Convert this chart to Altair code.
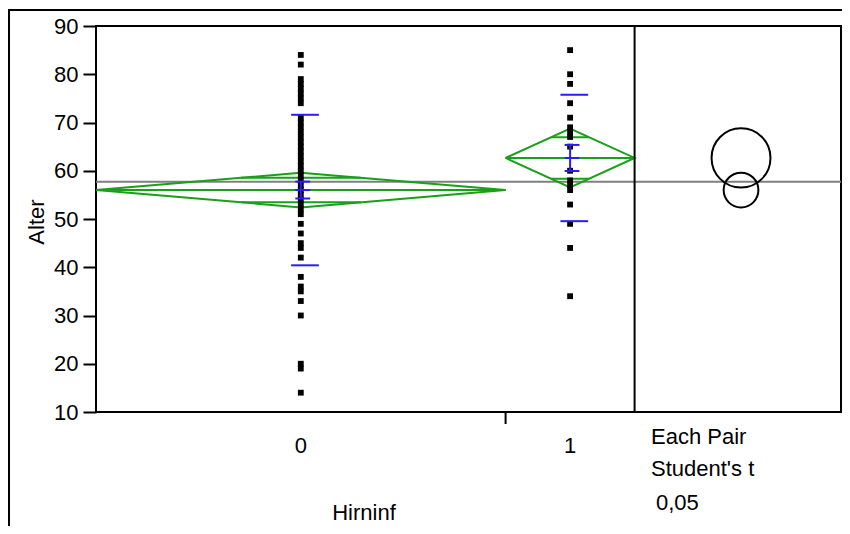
import math
import altair as alt
import pandas as pd

# ---------------- data ----------------
groups = ["0", "1"]
group_n = [127, 40]                 # group sizes -> widths of the groups on the x axis
group_means = [56.0, 62.65]
ci_halfwidth = [3.6, 6.1]           # 95% CI half-width (diamond half-height, circle radius)
se_halfwidth = [1.75, 2.7]          # mean error bars
std_dev = [15.6, 13.1]              # std dev lines
grand_mean = 57.7

ages_g0 = [84, 82, 79, 78, 77, 76, 75, 74, 71, 70, 69, 68, 67, 66, 65, 64, 63,
           62, 61, 60, 59, 58, 57, 56, 55, 54, 53, 52, 51, 49, 47, 45, 44, 42,
           38, 36, 35, 33, 30, 20, 19, 14]
ages_g1 = [85, 80, 78, 74, 71, 69, 68, 67, 65, 60, 58, 57, 56, 53, 49, 44, 34]

y_ticks = [10, 20, 30, 40, 50, 60, 70, 80, 90]
y_title = "Alter"
x_title = "Hirninf"
panel_text = ["Each Pair", "Student's t", "0,05"]
compare_panel_units = 64            # width of the comparison-circle panel in x units

# ---------------- geometry helpers ----------------
W, H = 745, 386
FONT = "Liberation Sans"
FS = 22
GREEN = "#18a018"
BLUE = "#2a1cff"
GRAY = "#7f7f7f"

main_units = sum(group_n)
x_max = main_units + compare_panel_units
lefts, rights, centers = [], [], []
acc = 0
for n in group_n:
    lefts.append(acc)
    rights.append(acc + n)
    centers.append(acc + n / 2)
    acc += n
circle_x = main_units + compare_panel_units / 2 + 1

xs = alt.Scale(domain=[0, x_max], nice=False, zero=False)
ys = alt.Scale(domain=[10, 90], nice=False, zero=False)
px_per_y = H / 80.0


def X(f="x"):
    return alt.X(f"{f}:Q", scale=xs, axis=None)


def Y(f="y"):
    return alt.Y(f"{f}:Q", scale=ys, axis=alt.Axis(
        values=y_ticks, title=None, domain=False, grid=False, ticks=True,
        tickSize=13, tickWidth=2, tickColor="black", labelFont=FONT,
        labelFontSize=FS, labelColor="black", labelPadding=5))


# points
pts = pd.DataFrame(
    [{"g": groups[0], "x": centers[0], "y": a} for a in ages_g0] +
    [{"g": groups[1], "x": centers[1], "y": a} for a in ages_g1])

# diamonds
drows = []
for i, g in enumerate(groups):
    m, h = group_means[i], ci_halfwidth[i]
    verts = [(lefts[i], m), (centers[i], m + h), (rights[i], m),
             (centers[i], m - h), (lefts[i], m)]
    for k, (vx, vy) in enumerate(verts):
        drows.append({"g": g, "o": k, "x": vx, "y": vy})
diam = pd.DataFrame(drows)

# green horizontal lines: mean line + overlap marks
grow = []
for i in range(2):
    m, h = group_means[i], ci_halfwidth[i]
    half = (rights[i] - lefts[i]) / 2
    grow.append({"x": lefts[i], "x2": rights[i], "y": m})
    ow = half * (1 - 1 / math.sqrt(2))
    for s in (1, -1):
        grow.append({"x": centers[i] - ow, "x2": centers[i] + ow,
                     "y": m + s * h / math.sqrt(2)})
green_h = pd.DataFrame(grow)

# blue: std dev lines and mean error bars
brow, bvert = [], []
for i in range(2):
    m = group_means[i]
    c_sd = centers[i] + 1.3
    for s in (1, -1):
        brow.append({"x": c_sd - 4.3, "x2": c_sd + 4.3, "y": m + s * std_dev[i]})
    c_me = centers[i] + 0.6
    for s in (1, 0, -1):
        brow.append({"x": c_me - 2.3, "x2": c_me + 2.3, "y": m + s * se_halfwidth[i]})
    bvert.append({"x": centers[i], "y": m - se_halfwidth[i], "y2": m + se_halfwidth[i]})
blue_h = pd.DataFrame(brow)
blue_v = pd.DataFrame(bvert)

# comparison circles
circ = pd.DataFrame([{"x": circle_x, "y": group_means[i],
                      "s": (2 * ci_halfwidth[i] * px_per_y) ** 2} for i in range(2)])

grand = pd.DataFrame([{"x": 0, "x2": x_max, "y": grand_mean}])
divider = pd.DataFrame([{"x": main_units, "y": 10, "y2": 90}])
boundary = pd.DataFrame([{"x": rights[0]}])
xlab = pd.DataFrame([{"x": centers[i], "t": groups[i]} for i in range(2)])

layers = []
layers.append(alt.Chart(grand).mark_rule(color=GRAY, strokeWidth=2).encode(
    x=X(), x2="x2:Q", y=Y()))
layers.append(alt.Chart(diam).mark_line(color=GREEN, strokeWidth=2).encode(
    x=X(), y=Y(), detail="g:N", order="o:Q"))
layers.append(alt.Chart(green_h).mark_rule(color=GREEN, strokeWidth=2).encode(
    x=X(), x2="x2:Q", y=Y()))
layers.append(alt.Chart(pts).mark_square(size=34, color="black", opacity=1).encode(
    x=X(), y=Y()))
layers.append(alt.Chart(blue_h).mark_rule(color=BLUE, strokeWidth=2).encode(
    x=X(), x2="x2:Q", y=Y()))
layers.append(alt.Chart(blue_v).mark_rule(color=BLUE, strokeWidth=2).encode(
    x=X(), y=Y(), y2="y2:Q"))
layers.append(alt.Chart(circ).mark_point(shape="circle", filled=False, color="black",
                                         strokeWidth=2, opacity=1).encode(
    x=X(), y=Y(), size=alt.Size("s:Q", scale=None, legend=None)))
layers.append(alt.Chart(divider).mark_rule(color="black", strokeWidth=2).encode(
    x=X(), y=Y(), y2="y2:Q"))
layers.append(alt.Chart(boundary).mark_rule(color="black", strokeWidth=2).encode(
    x=X(), y=alt.value(H), y2=alt.value(H + 12)))
layers.append(alt.Chart(xlab).mark_text(font=FONT, fontSize=FS, color="black",
                                        baseline="middle", align="center").encode(
    x=X(), y=alt.value(H + 34), text="t:N"))

def label(txt, x, y, align="left", angle=0):
    df = pd.DataFrame([{"t": txt}])
    return alt.Chart(df).mark_text(font=FONT, fontSize=FS, color="black",
                                   baseline="middle", align=align, angle=angle).encode(
        x=alt.value(x), y=alt.value(y), text="t:N")

layers.append(label(x_title, 268, 487, align="center"))
layers.append(label(y_title, -59, 196, align="center", angle=270))
layers.append(label(panel_text[0], 555, 411))
layers.append(label(panel_text[1], 555, 443))
layers.append(label(panel_text[2], 560, 477))

# outer frame lines
frame = pd.DataFrame([{"k": 1}])
layers.append(alt.Chart(frame).mark_rule(color="black", strokeWidth=2).encode(
    x=alt.value(-88), x2=alt.value(W + 1), y=alt.value(-16)))
layers.append(alt.Chart(frame).mark_rule(color="black", strokeWidth=2).encode(
    x=alt.value(-87), y=alt.value(-17), y2=alt.value(H + 114)))

chart = alt.layer(*layers).properties(
    width=W, height=H,
    autosize=alt.AutoSizeParams(type="none"),
    padding={"left": 88, "top": 18, "right": 1, "bottom": 114},
).configure(background="white").configure_view(stroke="black", strokeWidth=2)

chart.save("out.html", embed_options={"renderer": "svg", "actions": False})
